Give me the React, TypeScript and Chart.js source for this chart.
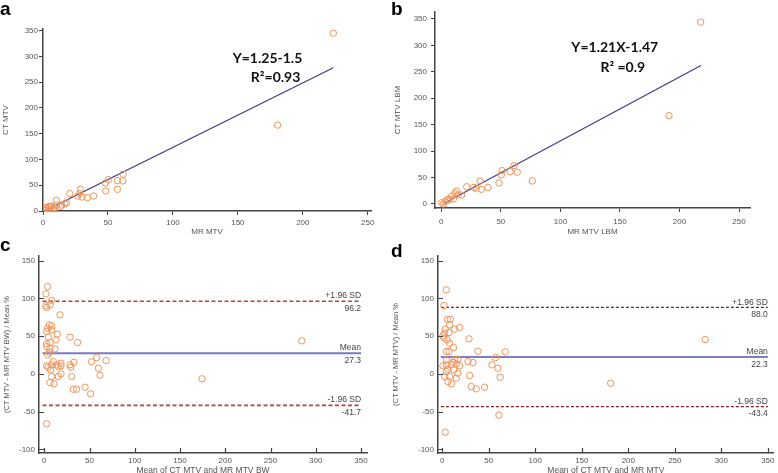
import React, { useEffect, useRef } from "react";
import { Chart, registerables } from "chart.js";

Chart.register(...registerables);

const FONT = "Arial, 'Liberation Sans', sans-serif";
const NOTE_FONT = "Lato, 'Open Sans', sans-serif";
const ORANGE = "#EE9459";
const AXIS = "#444444";
const TEXT = "#555555";

// ---------- Panel a: CT MTV vs MR MTV ----------
const aMR = [223.5, 180.6, 61.7, 61.4, 57.3, 57.3, 50.4, 48.0, 48.3, 39.0, 34.2, 28.8, 28.3, 30.0, 26.7, 20.6, 10.3, 10.3, 18.0, 16.7, 14.4, 13.6, 6.4, 5.1, 2.6, 1.3, 0.0, 2.6, 4.6, 6.5, 8.2, 5.2, 7.7, 3.5, 9.0];
const aCT = [344.8, 166.6, 71.3, 58.3, 59.0, 42.0, 61.0, 54.4, 38.9, 29.0, 26.0, 42.0, 33.7, 27.0, 29.0, 33.7, 20.7, 11.7, 16.0, 14.0, 11.7, 9.1, 9.0, 7.8, 4.5, 1.3, 1.4, 6.6, 9.1, 9.1, 6.6, 2.7, 2.7, 0.5, 5.0];
const aFitX = [1.2, 223.5];
const aFitY = [0, 278];
const aNotes = ["Y=1.25-1.5", "R\u00B2=0.93"];
const aNoteX = [146, 160];
const aNoteY = [286.5, 250.8];

// ---------- Panel b: CT MTV LBM vs MR MTV LBM ----------
const bMR = [217.8, 191.2, 76.4, 63.8, 61.0, 57.7, 51.0, 50.4, 48.4, 39.2, 32.5, 33.6, 29.4, 27.2, 21.3, 12.9, 14.3, 17.1, 11.5, 8.7, 10.1, 7.3, 5.9, 4.5, 3.1, 1.7, 0.3];
const bCT = [344, 167, 43.5, 60, 72.5, 61, 63, 55, 39.7, 31.5, 43.5, 27.7, 29.6, 31.5, 32.7, 24.6, 17, 17, 20.2, 15.1, 9.5, 8.8, 9.5, 6.3, 4.4, 0, 2.5];
const bFitX = [2, 218];
const bFitY = [1, 262];
const bNotes = ["Y=1.21X-1.47", "R\u00B2 =0.9"];
const bNoteX = [109.2, 133.6];
const bNoteY = [288.1, 250.3];

// ---------- Panel c: Bland-Altman BW ----------
const cMean = [3.7, 1.8, 8.1, 6.3, 1.8, 2.6, 17.3, 5.5, 8.1, 3.7, 8.1, 2.6, 14.4, 28.4, 4.4, 12.9, 36.8, 6.3, 2.6, 2.6, 11.8, 6.3, 5.5, 3.7, 284.5, 57.8, 68.2, 52.3, 32.8, 9.9, 18.4, 8.1, 13.6, 2.6, 28.4, 29.5, 4.4, 15.5, 59.7, 18.4, 7.0, 61.5, 18.4, 8.1, 15.5, 30.2, 6.3, 10.7, 45.0, 32.0, 35.7, 51.2, 174.3, 2.6];
const cDiff = [115.7, 106, 97.2, 91.4, 90.1, 87.9, 78.2, 64.9, 63.6, 60.5, 58.3, 56.1, 52.6, 48.6, 48.6, 45, 41.5, 41.5, 39.8, 36.2, 33.1, 34, 28.3, 25.2, 43.7, 21.6, 17.7, 15.9, 15.5, 16.3, 14.1, 11.9, 11.9, 10.6, 11.9, 8.8, 8.8, 9.7, 7.5, 10.6, 5.3, -1.8, 0, -3.5, -3.5, -3.5, -11.5, -13.3, -17.7, -20.3, -20.3, -26.5, -6.6, -66.3];
const cLimits = [96.2, 27.3, -41.7];

// ---------- Panel d: Bland-Altman ----------
const dMean = [4.3, 1.8, 5.4, 8.6, 7.9, 18.6, 13.3, 3.2, 2.5, 7.2, 0.7, 1.8, 5.4, 28.7, 282.7, 7.9, 12.2, 4.3, 7.2, 38.3, 57.3, 67.7, 27.6, 33.0, 53.4, 59.8, 4.3, 13.3, 16.8, 11.5, 15.0, 4.3, 0.7, 9.7, 18.6, 6.1, 12.5, 4.3, 16.8, 15.0, 2.5, 7.9, 29.4, 62.3, 6.1, 9.7, 31.2, 36.5, 45.5, 181, 60.9, 3.2];
const dDiff = [111.3, 90.5, 72.4, 72.4, 64.9, 61.4, 59.2, 59.2, 53.9, 54.8, 50.4, 47.3, 45.1, 46.4, 45.5, 40.6, 34.9, 29.6, 29.6, 30, 21.6, 29.2, 16.3, 15, 11.9, 7.5, 18.6, 18.6, 19.4, 15, 12.8, 11.9, 10.6, 11.9, 10.6, 6.2, 5.3, 3.1, 0.9, -5.7, -3.5, -3.5, -2.2, -4.4, -10.2, -13.3, -16.8, -19.9, -17.7, -12.4, -54.8, -77.3];
const dLimits = [88.0, 22.3, -43.4];

const limitNames = ["+1.96 SD", "Mean", "-1.96 SD"];

const xTicks250 = [0, 50, 100, 150, 200, 250];
const yTicks350 = [0, 50, 100, 150, 200, 250, 300, 350];
const xTicks350 = [0, 50, 100, 150, 200, 250, 300, 350];
const yTicksBA = [-100, -50, 0, 50, 100, 150];

type Cfg = {
  left: number; top: number; width: number; height: number;
  pad: { top: number; right: number; bottom: number; left: number };
  yWidth: number; xHeight: number;
  xMin: number; xMax: number; yMin: number; yMax: number;
  xTicks: number[]; yTicks: number[];
  xTitle: string; yTitle: string; xTitleSize: number; yTitleSize: number;
  xTitlePad: number; yTitlePad: number;
  xTickPad: number; yTickPad: number;
  xs: number[]; ys: number[];
  fitX?: number[]; fitY?: number[];
  notes?: string[]; noteX?: number[]; noteY?: number[];
  limits?: number[]; limitStart?: number; limitEnd?: number;
  meanColor?: string; meanWidth?: number; sdColor?: string; sdWidth?: number; sdDash?: number[];
  inward: boolean;
};

const panels: Cfg[] = [
  {
    left: 0, top: 0, width: 389, height: 240,
    pad: { top: 29, right: 18, bottom: 0, left: 0 },
    yWidth: 43, xHeight: 29,
    xMin: 0, xMax: 252.5, yMin: 0, yMax: 353,
    xTicks: xTicks250, yTicks: yTicks350,
    xTitle: "MR MTV", yTitle: "CT MTV", xTitleSize: 8, yTitleSize: 8,
    xTitlePad: 3, yTitlePad: 1, xTickPad: 3, yTickPad: 1,
    xs: aMR, ys: aCT, fitX: aFitX, fitY: aFitY,
    notes: aNotes, noteX: aNoteX, noteY: aNoteY,
    inward: false,
  },
  {
    left: 389, top: 0, width: 389, height: 240,
    pad: { top: 12, right: 28, bottom: 0, left: 0 },
    yWidth: 46, xHeight: 32,
    xMin: -5.3, xMax: 259.2, yMin: -7.6, yMax: 363.2,
    xTicks: xTicks250, yTicks: yTicks350,
    xTitle: "MR MTV LBM", yTitle: "CT MTV LBM", xTitleSize: 8, yTitleSize: 8,
    xTitlePad: 3, yTitlePad: 4, xTickPad: 5, yTickPad: 4,
    xs: bMR, ys: bCT, fitX: bFitX, fitY: bFitY,
    notes: bNotes, noteX: bNoteX, noteY: bNoteY,
    inward: false,
  },
  {
    left: 0, top: 236, width: 389, height: 245,
    pad: { top: 20, right: 22, bottom: 0, left: 0 },
    yWidth: 39, xHeight: 28,
    xMin: -5.86, xMax: 356.6, yMin: -104.9, yMax: 156.2,
    xTicks: xTicks350, yTicks: yTicksBA,
    xTitle: "Mean of CT MTV and MR MTV BW", yTitle: "(CT MTV - MR MTV BW) / Mean %",
    xTitleSize: 8.5, yTitleSize: 7.5,
    xTitlePad: 5, yTitlePad: 2, xTickPad: 3, yTickPad: 4,
    xs: cMean, ys: cDiff,
    limits: cLimits, limitStart: -2, limitEnd: 350,
    meanColor: "#7878C8", meanWidth: 2, sdColor: "#B4443C", sdWidth: 1.7, sdDash: [4, 2.5],
    inward: true,
  },
  {
    left: 389, top: 236, width: 389, height: 245,
    pad: { top: 20, right: 4, bottom: 0, left: 0 },
    yWidth: 49, xHeight: 28,
    xMin: -4.6, xMax: 356.4, yMin: -104.9, yMax: 156.2,
    xTicks: xTicks350, yTicks: yTicksBA,
    xTitle: "Mean of CT MTV and MR MTV", yTitle: "(CT MTV - MR MTV) / Mean %",
    xTitleSize: 8.5, yTitleSize: 7.5,
    xTitlePad: 5, yTitlePad: 2, xTickPad: 3, yTickPad: 4,
    xs: dMean, ys: dDiff,
    limits: dLimits, limitStart: -1.5, limitEnd: 350,
    meanColor: "#5050B8", meanWidth: 1.4, sdColor: "#8C1C1C", sdWidth: 1.2, sdDash: [3, 2],
    inward: true,
  },
];

const letters = [
  { t: "a", left: 0, top: -1 },
  { t: "b", left: 391, top: -1 },
  { t: "c", left: 0, top: 235 },
  { t: "d", left: 391, top: 241 },
];

function Panel({ cfg }: { cfg: Cfg }) {
  const ref = useRef<HTMLCanvasElement | null>(null);
  useEffect(() => {
    if (!ref.current) return;
    const datasets: any[] = [];
    datasets.push({
      type: "scatter",
      data: cfg.xs.map((x, i) => ({ x, y: cfg.ys[i] })),
      pointStyle: "circle",
      pointRadius: 3.2,
      pointHoverRadius: 3.2,
      pointBorderWidth: 1,
      borderColor: ORANGE,
      backgroundColor: "rgba(0,0,0,0)",
      showLine: false,
    });
    if (cfg.fitX && cfg.fitY) {
      datasets.push({
        type: "line",
        data: cfg.fitX.map((x, i) => ({ x, y: cfg.fitY![i] })),
        borderColor: "#3C3C8E",
        borderWidth: 1.2,
        pointRadius: 0,
        fill: false,
        tension: 0,
      });
    }
    if (cfg.limits) {
      cfg.limits.forEach((v, i) => {
        const isMean = i === 1;
        datasets.push({
          type: "line",
          data: [{ x: cfg.limitStart, y: v }, { x: cfg.limitEnd, y: v }],
          borderColor: isMean ? cfg.meanColor : cfg.sdColor,
          borderWidth: isMean ? cfg.meanWidth : cfg.sdWidth,
          borderDash: isMean ? [] : cfg.sdDash,
          pointRadius: 0,
          fill: false,
        });
      });
    }

    const gridOpts = cfg.inward
      ? { display: false, drawTicks: false }
      : { display: true, drawOnChartArea: false, drawTicks: true, tickLength: 4, color: AXIS, lineWidth: 1 };

    const extras = {
      id: "extras",
      afterDatasetsDraw(chart: any) {
        const ctx = chart.ctx;
        const xs = chart.scales.x;
        const ys = chart.scales.y;
        ctx.save();
        if (cfg.notes && cfg.noteX && cfg.noteY) {
          ctx.fillStyle = "#111";
          ctx.font = `bold 14px ${NOTE_FONT}`;
          ctx.textAlign = "left";
          ctx.textBaseline = "alphabetic";
          cfg.notes.forEach((t, i) => {
            ctx.fillText(t, xs.getPixelForValue(cfg.noteX![i]), ys.getPixelForValue(cfg.noteY![i]));
          });
        }
        if (cfg.limits) {
          ctx.fillStyle = "#444";
          ctx.font = `8.5px ${FONT}`;
          ctx.textAlign = "right";
          const px = xs.getPixelForValue(cfg.limitEnd);
          cfg.limits.forEach((v, i) => {
            const py = ys.getPixelForValue(v);
            ctx.textBaseline = "bottom";
            ctx.fillText(limitNames[i], px, py - 1);
            ctx.textBaseline = "top";
            ctx.fillText(v.toFixed(1), px, py + 3);
          });
        }
        if (cfg.inward) {
          const area = chart.chartArea;
          ctx.strokeStyle = AXIS;
          ctx.lineWidth = 1.2;
          ctx.beginPath();
          ys.ticks.forEach((t: any) => {
            const py = Math.round(ys.getPixelForValue(t.value)) + 0.5;
            ctx.moveTo(area.left, py);
            ctx.lineTo(area.left + 5, py);
          });
          xs.ticks.forEach((t: any) => {
            const px2 = Math.round(xs.getPixelForValue(t.value)) + 0.5;
            ctx.moveTo(px2, area.bottom);
            ctx.lineTo(px2, area.bottom - 5);
          });
          ctx.stroke();
        }
        ctx.restore();
      },
    };

    const chart = new Chart(ref.current, {
      type: "scatter",
      data: { datasets },
      options: {
        responsive: false,
        animation: false,
        events: [],
        layout: { padding: cfg.pad },
        plugins: { legend: { display: false }, tooltip: { enabled: false }, title: { display: false } },
        scales: {
          x: {
            type: "linear",
            min: cfg.xMin,
            max: cfg.xMax,
            afterBuildTicks: (s: any) => { s.ticks = cfg.xTicks.map((v) => ({ value: v })); },
            afterFit: (s: any) => { s.height = cfg.xHeight; },
            ticks: { autoSkip: false, maxRotation: 0, padding: cfg.xTickPad, color: TEXT, font: { family: FONT, size: 8 } },
            grid: gridOpts as any,
            border: { display: true, color: AXIS, width: 1.5 },
            title: { display: true, text: cfg.xTitle, color: TEXT, font: { family: FONT, size: cfg.xTitleSize }, padding: { top: 0, bottom: cfg.xTitlePad } },
          },
          y: {
            type: "linear",
            min: cfg.yMin,
            max: cfg.yMax,
            afterBuildTicks: (s: any) => { s.ticks = cfg.yTicks.map((v) => ({ value: v })); },
            afterFit: (s: any) => { s.width = cfg.yWidth; },
            ticks: { autoSkip: false, padding: cfg.yTickPad, color: TEXT, font: { family: FONT, size: 8 } },
            grid: gridOpts as any,
            border: { display: true, color: AXIS, width: 1.5 },
            title: { display: true, text: cfg.yTitle, color: TEXT, font: { family: FONT, size: cfg.yTitleSize }, padding: { top: cfg.yTitlePad, bottom: 0 } },
          },
        },
      } as any,
      plugins: [extras],
    });
    return () => chart.destroy();
  }, [cfg]);

  return (
    <canvas
      ref={ref}
      width={cfg.width}
      height={cfg.height}
      style={{ position: "absolute", left: cfg.left, top: cfg.top, width: cfg.width, height: cfg.height }}
    />
  );
}

export default function App() {
  return (
    <div
      style={{
        position: "fixed",
        left: 0,
        top: 0,
        width: 778,
        height: 473,
        background: "#ffffff",
        overflow: "hidden",
      }}
    >
      {panels.map((p, i) => (
        <Panel key={i} cfg={p} />
      ))}
      {letters.map((l) => (
        <div
          key={l.t}
          style={{
            position: "absolute",
            left: l.left,
            top: l.top,
            font: `bold 19px ${FONT}`,
            lineHeight: "19px",
            color: "#000",
          }}
        >
          {l.t}
        </div>
      ))}
    </div>
  );
}
